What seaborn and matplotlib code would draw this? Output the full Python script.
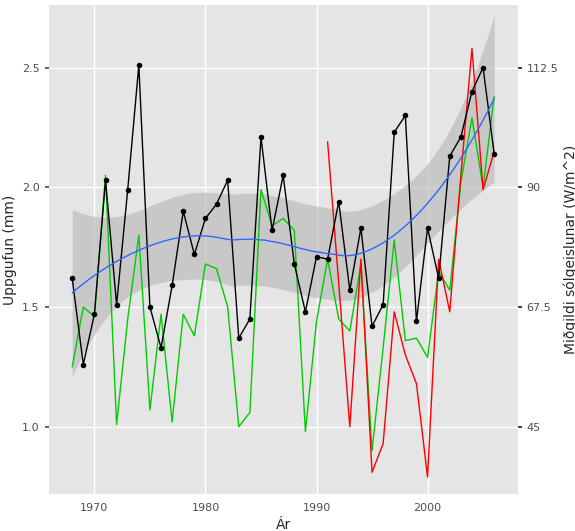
import numpy as np
import pandas as pd
import matplotlib
matplotlib.use('Agg')
import matplotlib.pyplot as plt
import seaborn as sns

years = list(range(1968, 2007))
uppgufun = [1.62, 1.26, 1.47, 2.03, 1.51, 1.99, 2.51, 1.50, 1.33, 1.59,
            1.90, 1.72, 1.87, 1.93, 2.03, 1.37, 1.45, 2.21, 1.82, 2.05,
            1.68, 1.48, 1.71, 1.70, 1.94, 1.57, 1.83, 1.42, 1.51, 2.23,
            2.30, 1.44, 1.83, 1.62, 2.13, 2.21, 2.40, 2.50, 2.14]
# solar radiation scaled to left axis units (right = 45 * left)
green = [1.25, 1.50, 1.46, 2.05, 1.01, 1.45, 1.80, 1.07, 1.47, 1.02,
         1.47, 1.38, 1.68, 1.66, 1.50, 1.00, 1.06, 1.99, 1.84, 1.87,
         1.82, 0.98, 1.44, 1.70, 1.45, 1.40, 1.68, 0.90, 1.33, 1.78,
         1.36, 1.37, 1.29, 1.65, 1.57, 2.02, 2.29, 2.00, 2.38]
red_years = list(range(1991, 2007))
red = [2.19, 1.60, 1.00, 1.70, 0.81, 0.93, 1.48, 1.30, 1.18, 0.79,
       1.70, 1.48, 2.05, 2.58, 1.99, 2.15]

df = pd.DataFrame({'year': years, 'uppgufun': uppgufun, 'green': green})
dfr = pd.DataFrame({'year': red_years, 'red': red})

# loess (span 0.75, degree 2) like ggplot's geom_smooth
x = df['year'].values.astype(float)
y = df['uppgufun'].values
n = len(x)
k = int(np.ceil(0.75 * n))
grid = np.linspace(x.min(), x.max(), 80)

def loess_row(x0):
    d = np.abs(x - x0)
    h = np.sort(d)[k - 1]
    w = np.clip(1 - (d / h) ** 3, 0, None) ** 3
    X = np.vstack([np.ones(n), x - x0, (x - x0) ** 2]).T
    W = np.diag(w)
    A = np.linalg.solve(X.T @ W @ X, X.T @ W)
    return A[0]

L = np.array([loess_row(v) for v in x])
resid = y - L @ y
dof = n - np.trace(L)
sigma = np.sqrt(np.sum(resid ** 2) / dof)
rows = np.array([loess_row(v) for v in grid])
fit = rows @ y
se = sigma * np.sqrt(np.sum(rows ** 2, axis=1))
tq = 2.03

sns.set_theme(style='darkgrid', rc={'axes.facecolor': '#e5e5e5', 'grid.color': 'white'})
fig, ax = plt.subplots(figsize=(5.75, 5.31), dpi=100)
ax.fill_between(grid, fit - tq * se, fit + tq * se, color='#bdbdbd', alpha=0.7, lw=0, zorder=1)
sns.lineplot(data=df, x='year', y='green', color='#00cc00', lw=1, ax=ax, zorder=2)
sns.lineplot(data=dfr, x='year', y='red', color='red', lw=1, ax=ax, zorder=3)
sns.lineplot(data=df, x='year', y='uppgufun', color='black', lw=1, marker='o',
             markersize=4, markeredgewidth=0, ax=ax, zorder=4)
ax.plot(grid, fit, color='#3366ff', lw=1, zorder=5)

ax.set_xlim(1965.9, 2008.1)
ax.set_ylim(0.72, 2.76)
ax.set_xticks([1970, 1980, 1990, 2000])
ax.set_yticks([1.0, 1.5, 2.0, 2.5])
ax.set_xlabel('Ár', fontsize=10)
ax.set_ylabel('Uppgufun (mm)', fontsize=10)
ax.tick_params(labelsize=8, colors='#4d4d4d', length=3, labelcolor='#4d4d4d')

ax2 = ax.twinx()
ax2.set_ylim(0.72 * 45, 2.76 * 45)
ax2.set_yticks([45, 67.5, 90, 112.5])
ax2.set_yticklabels(['45', '67.5', '90', '112.5'])
ax2.grid(False)
ax2.set_ylabel('Miðgildi sólgeislunar (W/m^2)', fontsize=10)
ax2.tick_params(labelsize=8, labelcolor='#4d4d4d', length=3)
for a in (ax, ax2):
    for s in a.spines.values():
        s.set_visible(False)

fig.subplots_adjust(left=0.085, right=0.9, top=0.99, bottom=0.07)
fig.savefig('out.png', dpi=100)
